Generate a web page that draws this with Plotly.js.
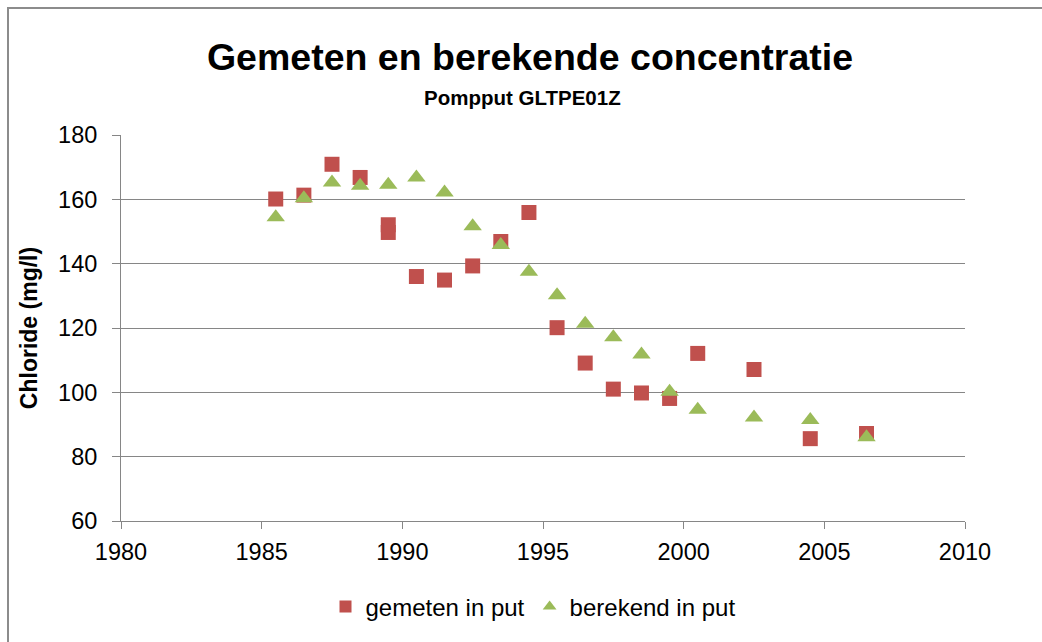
<!DOCTYPE html>
<html>
<head>
<meta charset="utf-8">
<script src="https://cdn.plot.ly/plotly-3.0.1.min.js"></script>
<style>
  html, body { margin: 0; padding: 0; background: #ffffff; overflow: hidden; }
  #chart { width: 1042px; height: 642px; position: absolute; left: 0; top: 0; }
  #frame { position: absolute; left: 7px; top: 7px; width: 2000px; height: 2000px;
           border-left: 2px solid #8c8c8c; border-top: 2px solid #8c8c8c;
           pointer-events: none; background: transparent; }
</style>
</head>
<body>
<div id="chart"></div>
<div id="frame"></div>
<script>
// Data
const yearsGemeten = [1985.5, 1986.5, 1987.5, 1988.5, 1989.5, 1989.5, 1990.5, 1991.5, 1992.5, 1993.5,
                      1994.5, 1995.5, 1996.5, 1997.5, 1998.5, 1999.5, 2000.5, 2002.5, 2004.5, 2006.5];
const gemeten = [160.1, 161.3, 170.9, 166.8, 152.1, 149.7, 136.0, 134.9, 139.3, 146.9,
                 155.9, 120.1, 109.1, 101.0, 99.8, 98.1, 112.1, 107.1, 85.6, 87.2];

const yearsBerekend = [1985.5, 1986.5, 1987.5, 1988.5, 1989.5, 1990.5, 1991.5, 1992.5, 1993.5,
                       1994.5, 1995.5, 1996.5, 1997.5, 1998.5, 1999.5, 2000.5, 2002.5, 2004.5, 2006.5];
const berekend = [154.4, 160.3, 165.2, 164.2, 164.5, 166.8, 162.1, 151.6, 145.8,
                  137.5, 130.2, 121.3, 117.1, 111.8, 100.2, 94.6, 92.2, 91.4, 86.0];

const seriesNames = ["gemeten in put", "berekend in put"];
const titleText = "Gemeten en berekende concentratie";
const subtitleText = "Pompput GLTPE01Z";
const yTitle = "Chloride (mg/l)";
const xTicks = [1980, 1985, 1990, 1995, 2000, 2005, 2010];
const yTicks = [60, 80, 100, 120, 140, 160, 180];

const FONT = "'Liberation Sans', Arial, sans-serif";
const GRID = "#868686";

const traces = [
  {
    type: "scatter", mode: "markers", name: seriesNames[0],
    x: yearsGemeten, y: gemeten,
    marker: { symbol: "square", size: 15, color: "#C0504D", line: { width: 0 } }
  },
  {
    type: "scatter", mode: "markers", name: seriesNames[1],
    x: yearsBerekend, y: berekend,
    marker: { symbol: "triangle-up", size: 16, color: "#9BBB59", line: { width: 0 } }
  }
];

const layout = {
  width: 1042, height: 642,
  paper_bgcolor: "#ffffff", plot_bgcolor: "#ffffff",
  margin: { l: 121, r: 77, t: 135, b: 121, pad: 0 },
  font: { family: FONT, color: "#000000", size: 23 },
  title: {
    text: "<b>" + titleText + "</b>",
    font: { family: FONT, size: 37.5, color: "#000000" },
    xref: "container", x: 530 / 1042, xanchor: "center",
    yref: "container", y: 1 - 57 / 642, yanchor: "middle"
  },
  annotations: [
    {
      text: "<b>" + subtitleText + "</b>",
      xref: "paper", yref: "paper",
      x: (522 - 121) / 844, y: 1 + 38 / 386,
      xanchor: "center", yanchor: "middle",
      showarrow: false,
      font: { family: FONT, size: 20.5, color: "#000000" }
    }
  ],
  xaxis: {
    range: [1980, 2010],
    tickvals: xTicks, ticktext: xTicks.map(String),
    showgrid: false, zeroline: false,
    showline: true, linecolor: GRID, linewidth: 1,
    ticks: "outside", ticklen: 7, tickcolor: GRID, tickwidth: 1,
    tickfont: { family: FONT, size: 23.5, color: "#000000" },
    ticklabelstandoff: 3,
    fixedrange: true
  },
  yaxis: {
    range: [60, 180],
    tickvals: yTicks, ticktext: yTicks.map(String),
    showgrid: true, gridcolor: GRID, gridwidth: 1,
    zeroline: false,
    showline: true, linecolor: GRID, linewidth: 1,
    ticks: "outside", ticklen: 8, tickcolor: GRID, tickwidth: 1,
    tickfont: { family: FONT, size: 23.5, color: "#000000" },
    ticklabelstandoff: 10,
    title: { text: "<b>" + yTitle + "</b>", font: { family: FONT, size: 23, color: "#000000" }, standoff: 14 },
    fixedrange: true
  },
  showlegend: true,
  legend: {
    orientation: "h",
    xref: "paper", x: (533 - 121) / 844, xanchor: "center",
    yref: "paper", y: -86 / 386, yanchor: "middle",
    font: { family: FONT, size: 24, color: "#000000" },
    bgcolor: "rgba(0,0,0,0)",
    itemsizing: "constant",
    tracegroupgap: 0
  }
};

Plotly.newPlot("chart", traces, layout, { displayModeBar: false, staticPlot: true });
</script>
</body>
</html>
